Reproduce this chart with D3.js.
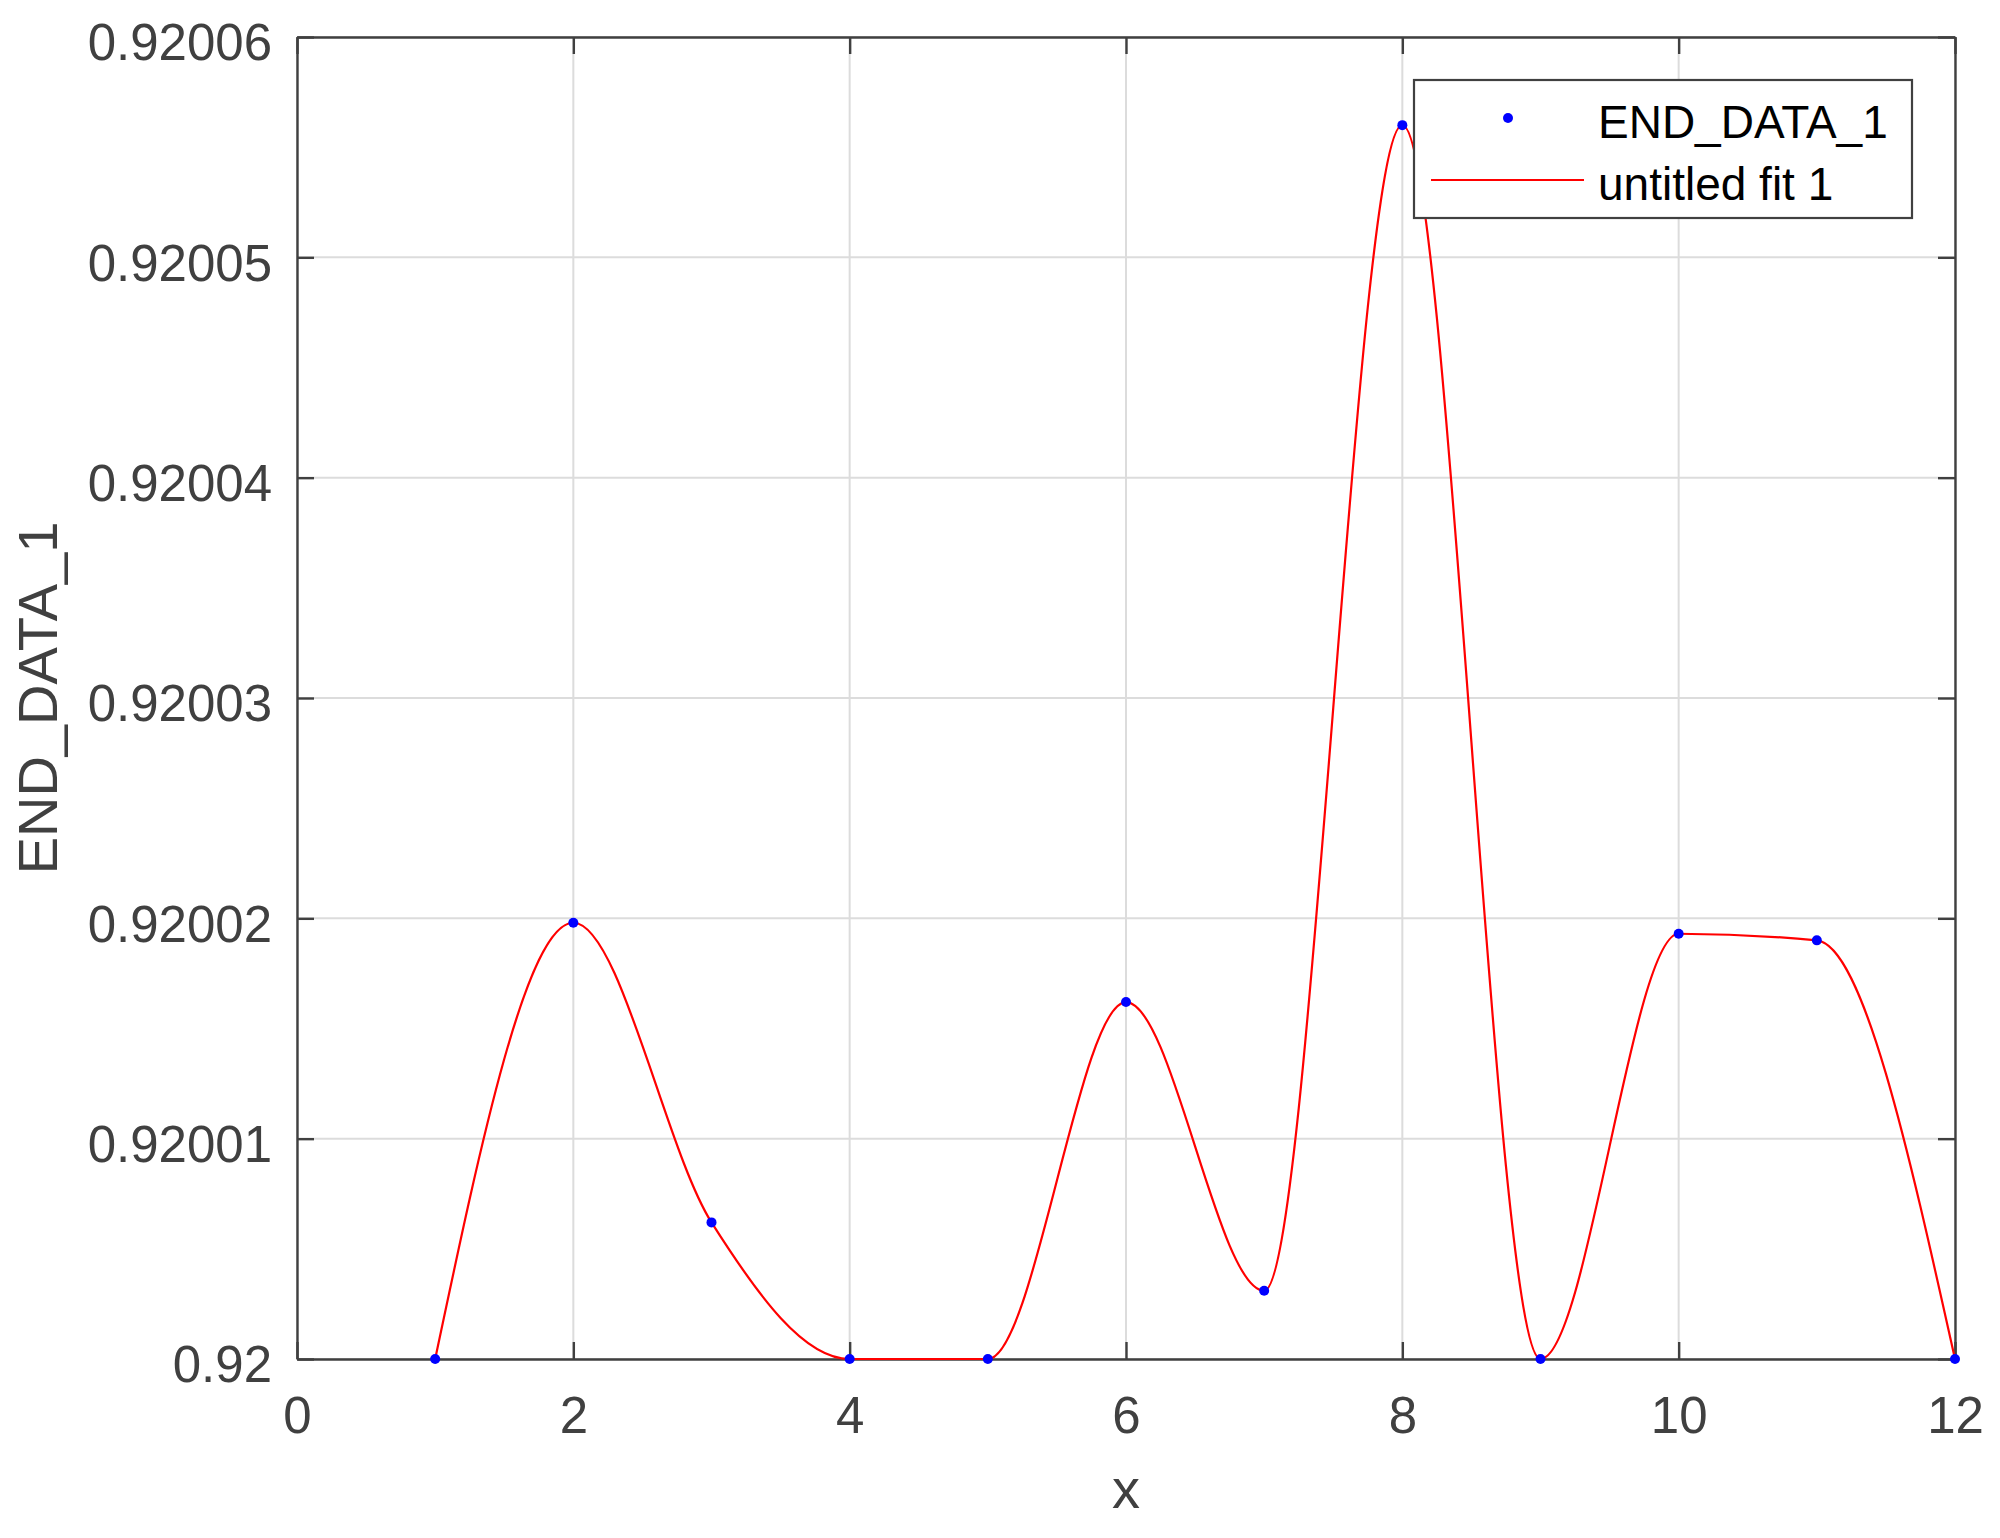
<!DOCTYPE html>
<html>
<head>
<meta charset="utf-8">
<script src="https://cdn.jsdelivr.net/npm/d3@7"></script>
<style>
  html, body { margin: 0; padding: 0; background: #fff; }
  svg { display: block; font-family: "Liberation Sans", Arial, Helvetica, sans-serif; }
</style>
</head>
<body>
<svg id="chart" width="2000" height="1538"></svg>
<script>
// ---- data ----
const xValues = [1, 2, 3, 4, 5, 6, 7, 8, 9, 10, 11, 12];
const yValues = [0.92, 0.9200198, 0.9200062, 0.92, 0.92, 0.9200162, 0.9200031, 0.9200560, 0.92, 0.9200193, 0.9200190, 0.92];
const xTicks = [0, 2, 4, 6, 8, 10, 12];
const yTicks = [0.92, 0.92001, 0.92002, 0.92003, 0.92004, 0.92005, 0.92006];
const yTickLabels = ["0.92", "0.92001", "0.92002", "0.92003", "0.92004", "0.92005", "0.92006"];
const seriesNames = ["END_DATA_1", "untitled fit 1"];
const xLabel = "x";
const yLabel = "END_DATA_1";

// ---- layout ----
const pL = 297, pR = 1955, pT = 37, pB = 1359;
const axisColor = "#404040";
const gridColor = "#dcdcdc";
const tickFont = 51;

const svg = d3.select("#chart");
const x = d3.scaleLinear().domain([0, 12]).range([pL, pR]);
const y = d3.scaleLinear().domain([0.92, 0.92006]).range([pB, pT]);

// grid
const grid = svg.append("g");
grid.selectAll("line.vg").data(xTicks).join("line")
  .attr("class", "vg")
  .attr("x1", d => x(d)).attr("x2", d => x(d))
  .attr("y1", pT).attr("y2", pB)
  .attr("stroke", gridColor).attr("stroke-width", 2);
grid.selectAll("line.hg").data(yTicks).join("line")
  .attr("class", "hg")
  .attr("x1", pL).attr("x2", pR)
  .attr("y1", d => y(d)).attr("y2", d => y(d))
  .attr("stroke", gridColor).attr("stroke-width", 2);

// axes
function styleAxis(g) {
  g.select(".domain").attr("stroke", axisColor).attr("stroke-width", 2.4);
  g.selectAll(".tick line").attr("stroke", axisColor).attr("stroke-width", 2.4);
  g.selectAll(".tick text").attr("fill", axisColor).attr("font-size", tickFont)
    .attr("font-family", "'Liberation Sans', Arial, Helvetica, sans-serif");
}

const gx = svg.append("g").attr("transform", `translate(0,${pB})`)
  .call(d3.axisBottom(x).tickValues(xTicks).tickFormat(d3.format("d"))
        .tickSizeInner(-17).tickSizeOuter(0).tickPadding(0));
styleAxis(gx);
gx.selectAll(".tick text").attr("y", 74).attr("dy", null);

const gxt = svg.append("g").attr("transform", `translate(0,${pT})`)
  .call(d3.axisTop(x).tickValues(xTicks).tickFormat("")
        .tickSizeInner(-17).tickSizeOuter(0));
styleAxis(gxt);

const gy = svg.append("g").attr("transform", `translate(${pL},0)`)
  .call(d3.axisLeft(y).tickValues(yTicks).tickFormat((d, i) => yTickLabels[i])
        .tickSizeInner(-17).tickSizeOuter(0).tickPadding(0));
styleAxis(gy);
gy.selectAll(".tick text").attr("x", -25).attr("dy", "0.45em");

const gyr = svg.append("g").attr("transform", `translate(${pR},0)`)
  .call(d3.axisRight(y).tickValues(yTicks).tickFormat("")
        .tickSizeInner(-17).tickSizeOuter(0));
styleAxis(gyr);

// axis labels
svg.append("text")
  .attr("x", (pL + pR) / 2).attr("y", 1508)
  .attr("text-anchor", "middle")
  .attr("font-size", 56).attr("fill", axisColor)
  .text(xLabel);

svg.append("text")
  .attr("transform", `translate(57,${(pT + pB) / 2}) rotate(-90)`)
  .attr("text-anchor", "middle")
  .attr("font-size", 56).attr("fill", axisColor)
  .text(yLabel);

// data
const pts = xValues.map((v, i) => [v, yValues[i]]);

const line = d3.line()
  .x(d => x(d[0])).y(d => y(d[1]))
  .curve(d3.curveMonotoneX);

svg.append("path")
  .datum(pts)
  .attr("d", line)
  .attr("fill", "none")
  .attr("stroke", "#ff0000")
  .attr("stroke-width", 2.2);

svg.append("g").selectAll("circle").data(pts).join("circle")
  .attr("cx", d => x(d[0])).attr("cy", d => y(d[1]))
  .attr("r", 5)
  .attr("fill", "#0000ff");

// legend
const lg = svg.append("g");
lg.append("rect")
  .attr("x", 1414).attr("y", 80)
  .attr("width", 498).attr("height", 138)
  .attr("fill", "#fff")
  .attr("stroke", axisColor).attr("stroke-width", 2.2);
lg.append("circle")
  .attr("cx", 1508).attr("cy", 118).attr("r", 5).attr("fill", "#0000ff");
lg.append("line")
  .attr("x1", 1431).attr("x2", 1584).attr("y1", 180).attr("y2", 180)
  .attr("stroke", "#ff0000").attr("stroke-width", 2.2);
lg.append("text")
  .attr("x", 1598).attr("y", 138)
  .attr("font-size", 46).attr("fill", "#000")
  .text(seriesNames[0]);
lg.append("text")
  .attr("x", 1598).attr("y", 200)
  .attr("font-size", 46).attr("fill", "#000")
  .text(seriesNames[1]);
</script>
</body>
</html>
